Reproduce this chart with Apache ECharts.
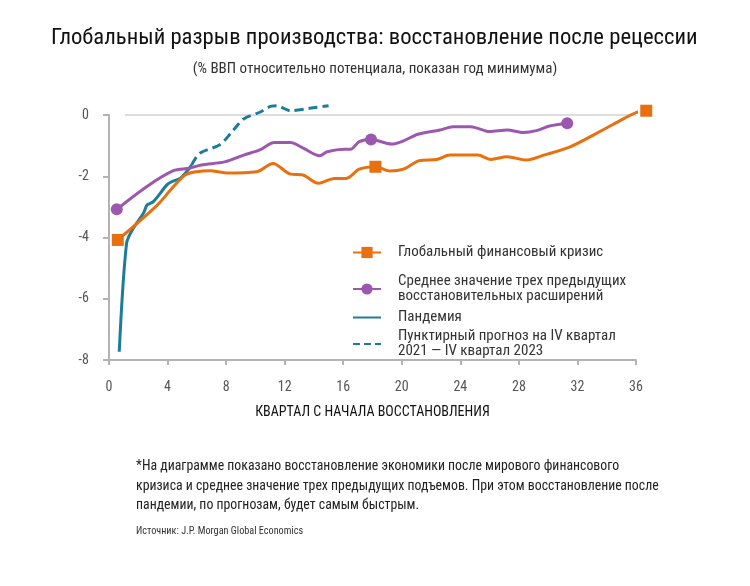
<!DOCTYPE html>
<html>
<head>
<meta charset="utf-8">
<script src="https://cdn.jsdelivr.net/npm/echarts@6/dist/echarts.min.js"></script>
<style>
html,body{margin:0;padding:0;background:#fff;}
#chart{width:750px;height:586px;}
</style>
</head>
<body>
<div id="chart"></div>
<script>
// ---- Data ----
const xTicks = [0, 4, 8, 12, 16, 20, 24, 28, 32, 36];
const yTicks = [0, -2, -4, -6, -8];

const gfcName = 'Глобальный финансовый кризис';
const gfcX = [0.6, 3.3, 4.2, 5.2, 6.0, 6.9, 8.0, 10.1, 11.2, 12.4, 13.2, 14.3, 15.4, 16.2, 17.1, 18.2, 19.2, 20.1, 21.2, 22.4, 23.3, 25.2, 26.1, 27.2, 28.5, 29.7, 31.5, 33.3, 35.2, 36.0, 36.7];
const gfcY = [-4.08, -2.94, -2.45, -1.96, -1.85, -1.82, -1.89, -1.85, -1.58, -1.93, -1.95, -2.23, -2.07, -2.07, -1.77, -1.69, -1.83, -1.77, -1.49, -1.45, -1.31, -1.31, -1.45, -1.36, -1.47, -1.31, -1.04, -0.60, -0.11, 0.08, 0.14];
const gfcMarkers = [0, 15, 30];

const avgName = 'Среднее значение трех предыдущих\nвосстановительных расширений';
const avgX = [0.53, 2.57, 4.4, 5.5, 6.3, 7.9, 9.2, 10.3, 11.3, 12.4, 13.3, 14.4, 14.9, 16.1, 16.5, 17.1, 17.9, 19.3, 20.0, 21.1, 22.6, 23.5, 24.7, 26.0, 27.2, 28.3, 29.2, 30.1, 31.3];
const avgY = [-3.08, -2.34, -1.82, -1.74, -1.63, -1.53, -1.31, -1.14, -0.90, -0.90, -1.09, -1.33, -1.20, -1.12, -1.12, -0.87, -0.80, -0.95, -0.87, -0.63, -0.49, -0.38, -0.38, -0.54, -0.49, -0.57, -0.51, -0.36, -0.27];
const avgMarkers = [0, 16, 28];

const pandName = 'Пандемия';
const pandX = [0.7, 1.2, 1.66, 2.35, 2.6, 3.03, 3.94, 4.28, 4.85, 5.3, 5.65];
const pandY = [-7.73, -4.19, -3.70, -3.21, -2.94, -2.83, -2.29, -2.18, -2.07, -1.85, -1.63];

const fcName = 'Пунктирный прогноз на IV квартал\n2021 — IV квартал 2023';
const fcX = [5.65, 6.2, 7.6, 8.5, 9.2, 10.3, 11.1, 11.45, 12.4, 13.7, 15.0];
const fcY = [-1.63, -1.25, -0.96, -0.49, -0.13, 0.09, 0.29, 0.30, 0.14, 0.22, 0.30];

const titleText = 'Глобальный разрыв производства: восстановление после рецессии';
const subtitleText = '(% ВВП относительно потенциала, показан год минимума)';
const xAxisName = 'КВАРТАЛ С НАЧАЛА ВОССТАНОВЛЕНИЯ';
const noteText = '*На диаграмме показано восстановление экономики после мирового финансового\nкризиса и среднее значение трех предыдущих подъемов. При этом восстановление после\nпандемии, по прогнозам, будет самым быстрым.';
const sourceText = 'Источник: J.P. Morgan Global Economics';

// ---- Styles ----
const ORANGE = '#E8700E';
const PURPLE = '#9C58AE';
const TEAL = '#1D7C98';
const FONT = "'Roboto Condensed','Liberation Sans Narrow','DejaVu Sans Condensed',Roboto,sans-serif";

const zip = (xs, ys) => xs.map((x, i) => [x, ys[i]]);

const chart = echarts.init(document.getElementById('chart'), null, {renderer: 'canvas'});

function legendItem(name, top, extra, lineStyle) {
  const l = {
    left: 352, top: top, orient: 'vertical', padding: 0,
    itemWidth: 28, itemHeight: 14,
    data: [Object.assign({name: name}, extra || {})],
    selectedMode: false,
    textStyle: {fontFamily: FONT, fontSize: 15, color: '#333', lineHeight: 15, padding: [0, 0, 0, 12]}
  };
  if (lineStyle) l.lineStyle = lineStyle;
  return l;
}

const option = {
  backgroundColor: '#fff',
  animation: false,
  title: [
    {text: titleText, left: 46, top: 22, textStyle: {fontFamily: FONT, fontSize: 22.7, fontWeight: 'normal', color: '#111'}},
    {text: subtitleText, left: 'center', top: 57, textStyle: {fontFamily: FONT, fontSize: 15, fontWeight: 'normal', color: '#333'}}
  ],
  legend: [
    legendItem(gfcName, 245),
    legendItem(avgName, 274),
    legendItem(pandName, 310, {itemStyle: {color: 'rgba(0,0,0,0)'}}),
    legendItem(fcName, 329, {itemStyle: {color: 'rgba(0,0,0,0)'}}, {type: [7, 4]})
  ],
  grid: {left: 109, right: 114, top: 115, bottom: 226},
  xAxis: {
    type: 'value', min: 0, max: 36, interval: 4,
    name: xAxisName, nameLocation: 'middle', nameGap: 45,
    nameTextStyle: {fontFamily: FONT, fontSize: 14, color: '#111'},
    axisLine: {show: true, onZero: false, lineStyle: {color: '#b3b3b3', width: 2}},
    axisTick: {show: true, length: 5, lineStyle: {color: '#b3b3b3', width: 2}},
    axisLabel: {margin: 20, fontFamily: FONT, fontSize: 14, color: '#555',
      formatter: v => xTicks.includes(v) ? String(v) : ''},
    splitLine: {show: false}
  },
  yAxis: {
    type: 'value', min: -8, max: 0, interval: 2,
    axisLine: {show: true, onZero: false, lineStyle: {color: '#b3b3b3', width: 2}},
    axisTick: {show: true, length: 6, lineStyle: {color: '#b3b3b3', width: 2}},
    axisLabel: {margin: 20, fontFamily: FONT, fontSize: 14, color: '#555',
      formatter: v => yTicks.includes(v) ? String(v) : ''},
    splitLine: {show: false}
  },
  graphic: [
    {type: 'text', left: 136, top: 457, style: {text: noteText, fontFamily: FONT, fontSize: 13.8, lineHeight: 19.5, fill: '#222'}},
    {type: 'text', left: 136, top: 526, style: {text: sourceText, fontFamily: FONT, fontSize: 10.2, fill: '#333'}}
  ],
  series: [
    {
      name: fcName, type: 'line', data: zip(fcX, fcY), clip: false,
      symbol: 'none', smooth: 0.3,
      lineStyle: {color: TEAL, width: 3, type: [9, 5]},
      itemStyle: {color: TEAL}, z: 2
    },
    {
      name: pandName, type: 'line', data: zip(pandX, pandY), clip: false,
      symbol: 'none', smooth: 0.3,
      lineStyle: {color: TEAL, width: 3},
      itemStyle: {color: TEAL}, z: 2,
      markLine: {
        silent: true, symbol: 'none', label: {show: false},
        lineStyle: {color: '#dedede', width: 2, type: 'solid'},
        data: [[{coord: [1.1, 0]}, {coord: [36, 0]}]], z: 1
      }
    },
    {
      name: avgName, type: 'line', data: zip(avgX, avgY), clip: false,
      symbol: 'circle', showAllSymbol: true, smooth: 0.3,
      symbolSize: (v, p) => avgMarkers.includes(p.dataIndex) ? 12 : 0,
      lineStyle: {color: PURPLE, width: 3},
      itemStyle: {color: PURPLE}, z: 3
    },
    {
      name: gfcName, type: 'line', data: zip(gfcX, gfcY), clip: false,
      symbol: 'rect', showAllSymbol: true, smooth: 0.3,
      symbolSize: (v, p) => gfcMarkers.includes(p.dataIndex) ? 12 : 0,
      lineStyle: {color: ORANGE, width: 3},
      itemStyle: {color: ORANGE}, z: 4
    }
  ]
};
chart.setOption(option);
</script>
</body>
</html>
